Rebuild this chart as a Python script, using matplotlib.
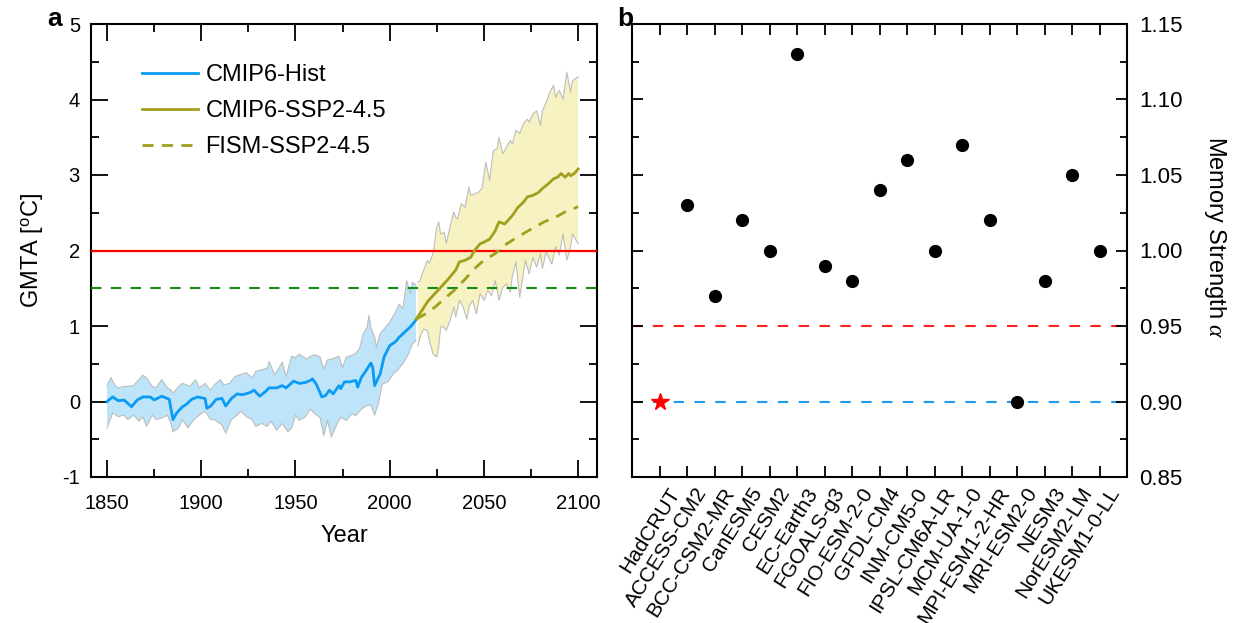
import numpy as np
import matplotlib
matplotlib.use('Agg')
import matplotlib.pyplot as plt
import matplotlib.transforms as mtransforms
from matplotlib.ticker import MultipleLocator, FormatStrFormatter

plt.rcParams['font.family'] = ['Liberation Sans', 'DejaVu Sans']
plt.rcParams['axes.unicode_minus'] = False
plt.rcParams['mathtext.fontset'] = 'custom'
plt.rcParams['mathtext.rm'] = 'Liberation Sans'
plt.rcParams['mathtext.it'] = 'Liberation Serif:italic'

# ---- panel a data ----
hist_years = [1850, 1853, 1856, 1859, 1860, 1863, 1866, 1869, 1873, 1875, 1879, 1882, 1883, 1885,
              1887, 1890, 1892, 1895, 1898, 1902, 1903, 1905, 1908, 1911, 1913, 1916, 1919, 1922,
              1926, 1928, 1931, 1934, 1936, 1940, 1943, 1945, 1949, 1952, 1955, 1958, 1959, 1961,
              1963, 1964, 1966, 1968, 1970, 1973, 1974, 1976, 1979, 1982, 1983, 1985, 1988, 1990,
              1991, 1992, 1995, 1997, 2000, 2003, 2005, 2008, 2011, 2014]
hist_mean = [0.00, 0.06, 0.01, 0.02, 0.00, -0.07, 0.02, 0.06, 0.06, 0.02, 0.07, 0.04, 0.03, -0.24,
             -0.15, -0.07, -0.04, 0.03, 0.06, 0.04, -0.09, -0.06, 0.03, 0.04, -0.06, 0.04, 0.10, 0.09,
             0.12, 0.15, 0.07, 0.13, 0.18, 0.18, 0.21, 0.18, 0.27, 0.24, 0.25, 0.28, 0.30, 0.23,
             0.12, 0.06, 0.08, 0.15, 0.10, 0.21, 0.17, 0.26, 0.26, 0.28, 0.19, 0.32, 0.43, 0.51,
             0.45, 0.21, 0.37, 0.59, 0.74, 0.79, 0.85, 0.92, 0.99, 1.08]

hist_up_years = [1850, 1852, 1854, 1856, 1859, 1861, 1864, 1867, 1869, 1871, 1874, 1876, 1879, 1882,
                 1884, 1885, 1888, 1890, 1894, 1897, 1899, 1902, 1905, 1907, 1910, 1912, 1915, 1918,
                 1920, 1924, 1927, 1929, 1932, 1935, 1936, 1939, 1943, 1945, 1948, 1950, 1952, 1956,
                 1958, 1960, 1963, 1965, 1967, 1970, 1973, 1975, 1977, 1980, 1982, 1984, 1986, 1988,
                 1989, 1990, 1992, 1993, 1995, 1997, 2000, 2003, 2005, 2007, 2009, 2011, 2012, 2014]
hist_upper = [0.20, 0.32, 0.22, 0.18, 0.20, 0.20, 0.21, 0.29, 0.35, 0.31, 0.20, 0.18, 0.29, 0.18,
              0.15, 0.11, 0.20, 0.24, 0.20, 0.29, 0.18, 0.24, 0.15, 0.22, 0.29, 0.22, 0.24, 0.33,
              0.35, 0.38, 0.31, 0.40, 0.42, 0.44, 0.53, 0.35, 0.52, 0.33, 0.60, 0.58, 0.63, 0.56,
              0.60, 0.62, 0.59, 0.43, 0.55, 0.57, 0.60, 0.45, 0.59, 0.61, 0.64, 0.70, 0.90, 0.98,
              1.14, 0.98, 0.85, 0.72, 0.90, 0.96, 1.05, 1.18, 1.29, 1.23, 1.60, 1.43, 1.58, 1.54]

hist_low_years = [1850, 1853, 1856, 1859, 1861, 1864, 1867, 1869, 1871, 1874, 1876, 1879, 1882, 1884,
                  1885, 1888, 1890, 1893, 1896, 1899, 1902, 1905, 1907, 1911, 1913, 1916, 1919, 1921,
                  1924, 1927, 1929, 1932, 1935, 1937, 1940, 1943, 1946, 1948, 1950, 1952, 1955, 1958,
                  1960, 1963, 1965, 1967, 1969, 1972, 1974, 1977, 1980, 1982, 1985, 1988, 1990, 1992,
                  1994, 1996, 1999, 2002, 2004, 2007, 2010, 2012, 2014]
hist_lower = [-0.35, -0.15, -0.20, -0.18, -0.24, -0.18, -0.26, -0.20, -0.33, -0.18, -0.24, -0.22, -0.18, -0.29,
              -0.40, -0.35, -0.24, -0.35, -0.24, -0.18, -0.13, -0.24, -0.24, -0.31, -0.42, -0.24, -0.18, -0.13,
              -0.20, -0.24, -0.33, -0.29, -0.33, -0.26, -0.38, -0.29, -0.40, -0.35, -0.18, -0.25, -0.21, -0.10,
              -0.16, -0.21, -0.45, -0.25, -0.47, -0.30, -0.21, -0.25, -0.16, -0.19, -0.10, -0.05, -0.05, -0.18,
              -0.03, 0.23, 0.26, 0.37, 0.41, 0.50, 0.63, 0.76, 0.81]

ssp_years = [2014, 2017, 2020, 2024, 2027, 2031, 2035, 2037, 2040, 2043, 2045, 2048, 2050, 2053,
             2056, 2058, 2061, 2065, 2068, 2071, 2073, 2076, 2079, 2081, 2084, 2087, 2089, 2091,
             2093, 2095, 2096, 2098, 2100]
ssp_mean = [1.09, 1.20, 1.32, 1.43, 1.51, 1.62, 1.74, 1.85, 1.87, 1.91, 2.00, 2.09, 2.11, 2.15,
            2.26, 2.38, 2.35, 2.46, 2.57, 2.64, 2.71, 2.73, 2.77, 2.82, 2.88, 2.95, 2.97, 3.02,
            2.97, 3.02, 2.99, 3.02, 3.08]

fism_years = [2014, 2019, 2024, 2029, 2035, 2040, 2045, 2050, 2056, 2061, 2066, 2072, 2077, 2082,
              2088, 2093, 2100]
fism_mean = [1.09, 1.16, 1.25, 1.36, 1.49, 1.62, 1.76, 1.87, 1.96, 2.07, 2.15, 2.24, 2.31, 2.38,
             2.44, 2.51, 2.58]

ssp_up_years = [2015, 2016, 2018, 2020, 2021, 2023, 2025, 2026, 2027, 2029, 2030, 2032, 2034, 2035,
                2036, 2038, 2040, 2042, 2043, 2045, 2047, 2049, 2051, 2053, 2055, 2057, 2058, 2060,
                2062, 2064, 2065, 2067, 2069, 2071, 2073, 2074, 2076, 2078, 2080, 2081, 2083, 2085,
                2087, 2088, 2090, 2092, 2094, 2096, 2097, 2100]
ssp_upper = [1.58, 1.60, 1.74, 1.87, 1.83, 1.96, 2.31, 2.38, 2.22, 2.24, 2.09, 2.31, 2.51, 2.44,
             2.42, 2.62, 2.57, 2.84, 2.73, 2.75, 2.77, 2.82, 3.17, 2.93, 3.32, 3.35, 3.50, 3.28,
             3.37, 3.46, 3.41, 3.59, 3.55, 3.68, 3.74, 3.70, 3.81, 3.85, 3.66, 3.85, 3.96, 4.10,
             4.19, 4.03, 4.12, 4.00, 4.36, 4.10, 4.25, 4.30]

ssp_low_years = [2015, 2016, 2018, 2020, 2021, 2023, 2025, 2026, 2027, 2028, 2030, 2032, 2034, 2035,
                 2037, 2039, 2041, 2042, 2044, 2046, 2048, 2050, 2052, 2054, 2056, 2058, 2060, 2062,
                 2064, 2065, 2067, 2069, 2072, 2074, 2076, 2078, 2080, 2081, 2083, 2086, 2088, 2090,
                 2092, 2094, 2096, 2097, 2100]
ssp_lower = [0.74, 0.85, 0.96, 0.94, 0.81, 0.63, 0.59, 0.72, 0.98, 1.00, 0.94, 1.07, 1.25, 1.12,
             1.34, 1.25, 1.09, 1.25, 1.34, 1.16, 1.43, 1.34, 1.47, 1.40, 1.60, 1.34, 1.51, 1.56,
             1.45, 1.65, 1.85, 1.38, 1.87, 1.69, 1.91, 1.78, 1.96, 1.76, 1.98, 1.82, 2.05, 1.94,
             2.22, 1.87, 2.05, 2.22, 2.09]

# ---- panel b data ----
models = ['HadCRUT', 'ACCESS-CM2', 'BCC-CSM2-MR', 'CanESM5', 'CESM2', 'EC-Earth3', 'FGOALS-g3',
          'FIO-ESM-2-0', 'GFDL-CM4', 'INM-CM5-0', 'IPSL-CM6A-LR', 'MCM-UA-1-0', 'MPI-ESM1-2-HR',
          'MRI-ESM2-0', 'NESM3', 'NorESM2-LM', 'UKESM1-0-LL']
alpha_vals = [0.90, 1.03, 0.97, 1.02, 1.00, 1.13, 0.99, 0.98, 1.04, 1.06, 1.00, 1.07, 1.02,
              0.90, 0.98, 1.05, 1.00]

c_hist = '#0A9BF5'
c_hist_fill = '#BDE4F9'
c_ssp = '#A29E1E'
c_ssp_fill = '#F7F2C2'
c_edge = '#BDBDBD'

fig = plt.figure(figsize=(12.34, 6.23), dpi=100)
ax1 = fig.add_axes([91/1234, 1-477/623, 506/1234, 453/623])
ax2 = fig.add_axes([632/1234, 1-477/623, 495/1234, 453/623])

# panel a
ax1.fill(hist_up_years + hist_low_years[::-1], hist_upper + hist_lower[::-1],
         color=c_hist_fill, lw=0, zorder=1)
ax1.plot(hist_up_years, hist_upper, color=c_edge, lw=0.8, zorder=2)
ax1.plot(hist_low_years, hist_lower, color=c_edge, lw=0.8, zorder=2)
ax1.fill(ssp_up_years + ssp_low_years[::-1], ssp_upper + ssp_lower[::-1],
         color=c_ssp_fill, lw=0, zorder=1)
ax1.plot(ssp_up_years, ssp_upper, color=c_edge, lw=0.8, zorder=2)
ax1.plot(ssp_low_years, ssp_lower, color=c_edge, lw=0.8, zorder=2)

ax1.axhline(2, color='#FF0000', lw=1.6, zorder=3)
ax1.axhline(1.5, color='#138A13', lw=1.5, dashes=(5, 4.5), zorder=3)

ax1.plot(hist_years, hist_mean, color=c_hist, lw=2.0, label='CMIP6-Hist', zorder=4)
ax1.plot(ssp_years, ssp_mean, color=c_ssp, lw=2.0, label='CMIP6-SSP2-4.5', zorder=4)
ax1.plot(fism_years, fism_mean, color=c_ssp, lw=2.0, dashes=(4, 3), label='FISM-SSP2-4.5', zorder=4)

ax1.set_xlim(1841.5, 2110)
ax1.set_ylim(-1, 5)
ax1.xaxis.set_major_locator(MultipleLocator(50))
ax1.xaxis.set_minor_locator(MultipleLocator(25))
ax1.yaxis.set_major_locator(MultipleLocator(1))
ax1.yaxis.set_minor_locator(MultipleLocator(0.5))
ax1.tick_params(which='both', direction='in', top=True, right=True, width=1.3, labelsize=14.5)
ax1.tick_params(which='major', length=12)
ax1.tick_params(which='minor', length=6)
ax1.tick_params(axis='x', pad=12)
ax1.tick_params(axis='y', pad=8)
ax1.set_xlabel('Year', fontsize=17, labelpad=9)
ax1.set_ylabel('GMTA [$^\\mathrm{o}$C]', fontsize=17, labelpad=12)
for s in ax1.spines.values():
    s.set_linewidth(1.5)
leg = ax1.legend(loc='upper left', bbox_to_anchor=(0.10, 0.912), frameon=False, fontsize=17,
                 handlelength=2.4, handletextpad=0.3, labelspacing=0.6, borderpad=0, borderaxespad=0)

# panel b
xpos = np.arange(len(models))
ax2.axhline(0.95, color='#FF2020', lw=1.5, dashes=(5, 5), zorder=1)
ax2.axhline(0.90, color='#1E9BF0', lw=1.5, dashes=(5, 5), zorder=1)
ax2.plot(xpos[1:], alpha_vals[1:], 'o', color='black', ms=8.5, zorder=3)
ax2.plot(xpos[:1], alpha_vals[:1], '*', color='#FF0000', ms=13, zorder=3)
ax2.set_xlim(-1, 17)
ax2.set_ylim(0.85, 1.15)
ax2.set_xticks(xpos)
ax2.set_xticklabels([])
lab_tr = ax2.get_xaxis_transform() + mtransforms.ScaledTranslation(0.16, -0.12, fig.dpi_scale_trans)
for i, name in enumerate(models):
    ax2.text(xpos[i], 0, name, transform=lab_tr, rotation=58, ha='right', va='center',
             rotation_mode='anchor', fontsize=15, clip_on=False)
ax2.yaxis.set_major_locator(MultipleLocator(0.05))
ax2.yaxis.set_minor_locator(MultipleLocator(0.025))
ax2.yaxis.set_major_formatter(FormatStrFormatter('%.2f'))
ax2.tick_params(which='both', direction='in', top=True, right=True, left=True, width=1.3)
ax2.tick_params(axis='y', which='major', length=8, labelleft=False, labelright=True, labelsize=16, pad=9)
ax2.tick_params(axis='y', which='minor', length=5)
ax2.tick_params(axis='x', length=8)
ax2.set_ylabel('Memory Strength $\\alpha$', fontsize=17, rotation=-90, ha='center', va='center')
ax2.yaxis.set_label_position('right')
ax2.yaxis.set_label_coords(1.205, 0.53)
for s in ax2.spines.values():
    s.set_linewidth(1.5)

fig.text(47/1234, 1-26/623, 'a', fontsize=19, fontweight='bold', va='baseline')
fig.text(617/1234, 1-26/623, 'b', fontsize=19, fontweight='bold', va='baseline')

fig.savefig('out.png', dpi=100)
